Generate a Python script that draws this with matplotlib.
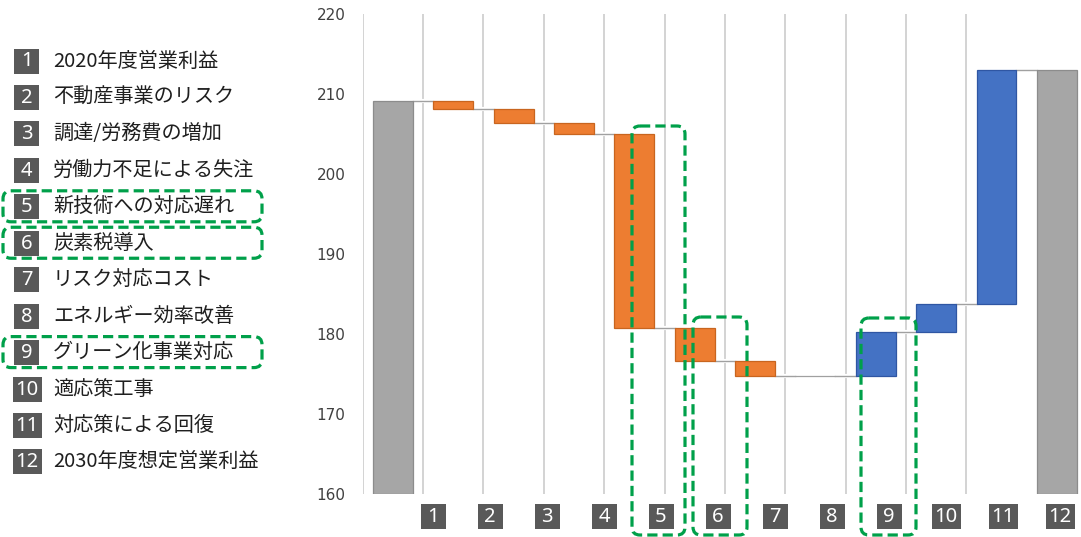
import numpy as np
import matplotlib
matplotlib.use("Agg")
import matplotlib.pyplot as plt
from matplotlib.patches import FancyBboxPatch, Rectangle
import matplotlib.patheffects as pe

# --- data ---------------------------------------------------------------
item_numbers = ["1", "2", "3", "4", "5", "6", "7", "8", "9", "10", "11", "12"]
item_labels = [
    "2020年度営業利益",
    "不動産事業のリスク",
    "調達/労務費の増加",
    "労働力不足による失注",
    "新技術への対応遅れ",
    "炭素税導入",
    "リスク対応コスト",
    "エネルギー効率改善",
    "グリーン化事業対応",
    "適応策工事",
    "対応策による回復",
    "2030年度想定営業利益",
]
start_profit = 209.1
changes = [-1.0, -1.7, -1.4, -24.3, -4.1, -1.8, 0.0, 5.5, 3.4, 29.3]
highlighted = [5, 6, 9]          # items framed with a dashed outline
y_ticks = [160, 170, 180, 190, 200, 210, 220]

# --- colours --------------------------------------------------------------
GRAY, GRAY_EDGE = "#A6A6A6", "#8C8C8C"
ORANGE, ORANGE_EDGE = "#ED7D31", "#C8651F"
BLUE, BLUE_EDGE = "#4472C4", "#2F56A3"
GRID = "#D0D0D0"
CONNECT = "#A0A0A0"
BADGE = "#595959"
GREEN = "#00A04A"

W, H = 1081, 537
fig = plt.figure(figsize=(W / 100, H / 100), dpi=100)

# --- waterfall axes -------------------------------------------------------
ax_left_px = 362.7
unit_px = 60.36
ax = fig.add_axes([ax_left_px / W, (H - 494) / H, 1 - ax_left_px / W, 480 / H])
ax.set_xlim(-0.5, -0.5 + (W - ax_left_px) / unit_px)
ax.set_ylim(160, 220)

levels = start_profit + np.concatenate([[0.0], np.cumsum(changes)])
end_profit = levels[-1]
n = len(item_numbers)
bar_w = 0.66

bottoms, heights, faces, edges = [], [], [], []
bottoms.append(160); heights.append(start_profit - 160); faces.append(GRAY); edges.append(GRAY_EDGE)
for i, d in enumerate(changes):
    lo = min(levels[i], levels[i + 1])
    bottoms.append(lo)
    heights.append(abs(d))
    if d < 0:
        faces.append(ORANGE); edges.append(ORANGE_EDGE)
    elif d > 0:
        faces.append(BLUE); edges.append(BLUE_EDGE)
    else:
        faces.append("none"); edges.append(CONNECT)
bottoms.append(160); heights.append(end_profit - 160); faces.append(GRAY); edges.append(GRAY_EDGE)

x = np.arange(n)
ax.bar(x, heights, bottom=bottoms, width=bar_w, color=faces, edgecolor=edges,
       linewidth=0.9, zorder=3)

# category separators
for xi in x[:-1]:
    ax.axvline(xi - 0.5, color=GRID, lw=1.3, zorder=1)

# connectors between consecutive bars
run_levels = [start_profit] + list(levels[1:])
for i in range(n - 1):
    ax.plot([i + bar_w / 2, i + 1 - bar_w / 2], [run_levels[i], run_levels[i]],
            color=CONNECT, lw=1.0, zorder=2,
            path_effects=[pe.Stroke(linewidth=3, foreground="white"), pe.Normal()])

ax.set_yticks(y_ticks)
ax.set_yticklabels([str(t) for t in y_ticks])
ax.tick_params(axis="y", length=0, pad=12.5, labelsize=11, labelcolor="#404040")
ax.set_xticks([])
for s in ax.spines.values():
    s.set_visible(False)

# --- overlay in pixel coordinates for legend, badges and frames ---------
ov = fig.add_axes([0, 0, 1, 1], zorder=5)
ov.set_xlim(0, W)
ov.set_ylim(H, 0)
ov.axis("off")
ov.patch.set_alpha(0)


def badge(cx, cy, txt):
    w = 25 if len(txt) == 1 else 29
    ov.add_patch(Rectangle((cx - w / 2, cy - 12.5), w, 25, facecolor=BADGE,
                           edgecolor="none"))
    ov.text(cx, cy + 0.5, txt, color="white", ha="center", va="center",
            fontsize=14.5, family="Noto Sans")


def frame(x0, y0, x1, y1):
    ov.add_patch(FancyBboxPatch((x0, y0), x1 - x0, y1 - y0,
                                boxstyle="round,pad=0,rounding_size=8",
                                facecolor="none", edgecolor=GREEN, lw=2.3,
                                linestyle=(0, (3.2, 1.6))))


# legend list
row0, row_step = 61, 36.45
for i, (num, lab) in enumerate(zip(item_numbers, item_labels)):
    cy = row0 + i * row_step
    badge(26.5 if len(num) == 1 else 27, cy, num)
    ov.text(53, cy, lab, ha="left", va="center", fontsize=14.5,
            color="#1F1F1F", family=["Noto Sans CJK JP", "DejaVu Sans"])

# numbered badges under the bars
bx0, bx_step, by = 433, 57, 516
for i, num in enumerate(item_numbers):
    badge(bx0 + i * bx_step, by, num)

# dashed highlight frames: legend rows and chart columns
for k in highlighted:
    cy = row0 + (k - 1) * row_step
    frame(3, cy - 16, 262, cy + 15)
col_frames = {5: (632, 126, 685, 535), 6: (693, 317, 747, 535), 9: (861, 318, 916, 535)}
for k in highlighted:
    frame(*col_frames[k])

fig.savefig("out.png", dpi=100)
